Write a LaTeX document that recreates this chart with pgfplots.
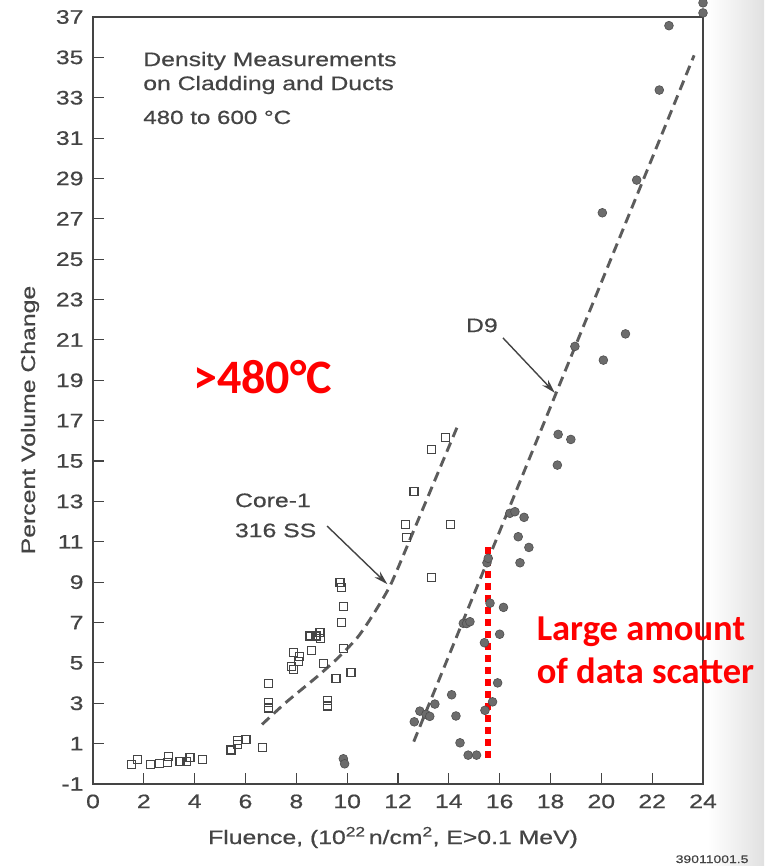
\documentclass[border=0pt]{standalone}
\usepackage{pgfplots}
\pgfplotsset{compat=1.18}
\usepackage{fontspec}
\setmainfont[FakeStretch=1.27,FakeBold=0.6]{Liberation Sans}
\newfontfamily\redfont{Carlito}
\usetikzlibrary{arrows.meta}

\definecolor{ink}{RGB}{68,68,68}
\definecolor{dashc}{RGB}{92,92,92}
\definecolor{dotfill}{RGB}{108,108,108}
\definecolor{dotedge}{RGB}{78,78,78}
\definecolor{hot}{RGB}{255,0,0}

% Core-1 316 SS cladding/duct density data (open squares)
\pgfplotstableread{
x y
1.52 -0.03
1.74 0.22
2.27 -0.03
2.61 0.03
2.92 0.07
2.96 0.36
3.42 0.13
3.69 0.13
3.82 0.31
4.30 0.22
5.43 0.68
5.69 0.96
5.69 1.17
6.02 1.21
6.68 0.81
6.90 3.98
6.92 3.02
6.92 2.77
7.82 4.84
7.88 4.68
7.88 5.52
8.08 5.05
8.14 5.30
8.54 6.33
8.77 6.33
8.93 6.49
8.96 6.19
8.60 5.63
9.06 4.97
9.22 3.15
9.22 2.86
9.56 4.23
9.72 8.97
9.78 8.74
9.85 7.81
9.78 6.99
9.87 5.70
10.15 4.51
12.31 11.87
12.34 11.22
12.63 13.48
13.32 15.58
13.87 16.17
14.07 11.87
13.32 9.22
}\coreone

% D9 density data (filled circles)
\pgfplotstableread{
x y
9.85 0.25
9.90 0.00
12.64 2.08
12.86 2.61
13.10 2.45
13.25 2.35
13.45 2.96
14.11 3.42
14.28 2.37
14.44 1.04
14.76 0.43
15.09 0.43
15.42 2.65
15.72 3.07
15.92 4.01
15.40 6.00
16.00 6.42
14.57 6.96
14.70 6.95
14.83 7.04
15.62 7.96
16.15 7.75
15.50 9.96
15.55 10.18
16.80 9.96
16.73 11.25
17.15 10.72
16.40 12.41
16.60 12.49
16.96 12.21
18.27 14.80
18.30 16.32
18.80 16.07
18.96 20.68
20.08 20.00
20.95 21.30
20.04 27.30
21.39 28.92
22.28 33.38
22.66 36.57
24.00 37.20
24.00 37.70
}\dnine

\begin{document}
\begin{tikzpicture}[x=1pt,y=1pt]
\path[use as bounding box] (-93,-82) rectangle (671,784);
\fill[white] (-93,-82) rectangle (671,784);
\shade[left color=white,right color=black!12] (615,-82) rectangle (671,784);

\begin{axis}[
  at={(0,0)}, anchor=south west,
  scale only axis, width=610pt, height=767pt,
  xmin=0, xmax=24, ymin=-1, ymax=37,
  xtick={0,2,...,24}, ytick={-1,1,...,37},
  xtick pos=left, ytick pos=left,
  tick align=inside, major tick length=11pt,
  axis line style={ink, line width=1.3pt},
  tick style={ink, line width=1.1pt},
  ticklabel style={font=\fontsize{19.5}{20}\selectfont, text=ink},
  xticklabel style={yshift=-7pt},
  yticklabel style={xshift=-6pt},
  /pgf/number format/assume math mode=true,
  clip=false,
  every node/.append style={inner sep=0pt},
]

% fitted trend lines
\addplot[dashc, line width=2.9pt, dash pattern=on 10pt off 6pt, smooth, tension=0.4]
  coordinates {(6.65,1.95) (7.6,3.05) (8.8,4.3) (9.6,5.2) (10.4,6.25) (11.0,7.35)
               (11.7,8.85) (12.5,11.2) (13.3,13.6) (14.35,16.75)};
\addplot[dashc, line width=2.9pt, dash pattern=on 10pt off 6pt]
  coordinates {(12.62,1.1) (23.65,35.1)};

% measurements
\addplot[only marks, mark=square, mark size=4pt,
  mark options={draw=ink, line width=1.2pt, fill=white}] table {\coreone};
\addplot[only marks, mark=*, mark size=4.4pt,
  mark options={draw=dotedge, fill=dotfill, line width=0.6pt}] table {\dnine};

% scatter band at ~15.5e22 n/cm2
\addplot[hot, line width=6.5pt, dash pattern=on 7pt off 5pt]
  coordinates {(15.54,10.75) (15.54,0.3)};

% annotations
\node[anchor=base west, text=ink, font=\fontsize{19.5}{20}\selectfont]
  at (axis cs:1.84,34.57) {Density Measurements};
\node[anchor=base west, text=ink, font=\fontsize{19.5}{20}\selectfont]
  at (axis cs:1.84,33.38) {on Cladding and Ducts};
\node[anchor=base west, text=ink, font=\fontsize{19}{20}\selectfont]
  at (axis cs:1.84,31.70) {480 to 600 °C};

\node[anchor=base west, text=ink, font=\fontsize{19.5}{20}\selectfont]
  at (axis cs:5.45,12.72) {Core-1};
\node[anchor=base west, text=ink, font=\fontsize{19.5}{20}\selectfont]
  at (axis cs:5.45,11.23) {316 SS};
\draw[ink, line width=1.4pt, -{Stealth[length=14pt,width=8pt]}]
  (axis cs:9.21,11.78) -- (axis cs:11.58,8.9);

\node[anchor=base, text=ink, font=\fontsize{19.5}{20}\selectfont]
  at (axis cs:15.3,21.39) {D9};
\draw[ink, line width=1.4pt, -{Stealth[length=14pt,width=8pt]}]
  (axis cs:16.13,21.1) -- (axis cs:18.17,18.38);

\node[anchor=base west, text=hot, font=\redfont\bfseries\fontsize{48}{50}\selectfont]
  at (axis cs:3.8,18.37) {>480°C};
\node[anchor=base west, text=hot, font=\redfont\bfseries\fontsize{36.5}{40}\selectfont]
  at (axis cs:17.32,6.13) {Large amount};
\node[anchor=base west, text=hot, font=\redfont\bfseries\fontsize{36.5}{40}\selectfont]
  at (axis cs:17.32,4.0) {of data scatter};
\end{axis}

% axis titles
\node[text=ink, font=\fontsize{19.5}{20}\selectfont, anchor=base]
  at (300,-60) {Fluence, (10\textsuperscript{22}\,n/cm\textsuperscript{2}, E>0.1 MeV)};
\node[text=ink, font=\fontsize{19.5}{20}\selectfont, rotate=90, anchor=base]
  at (-58,364) {Percent Volume Change};
\node[text=ink, font=\fontsize{11}{12}\selectfont, anchor=base east]
  at (659,-79) {39011001.5};
\end{tikzpicture}
\end{document}
